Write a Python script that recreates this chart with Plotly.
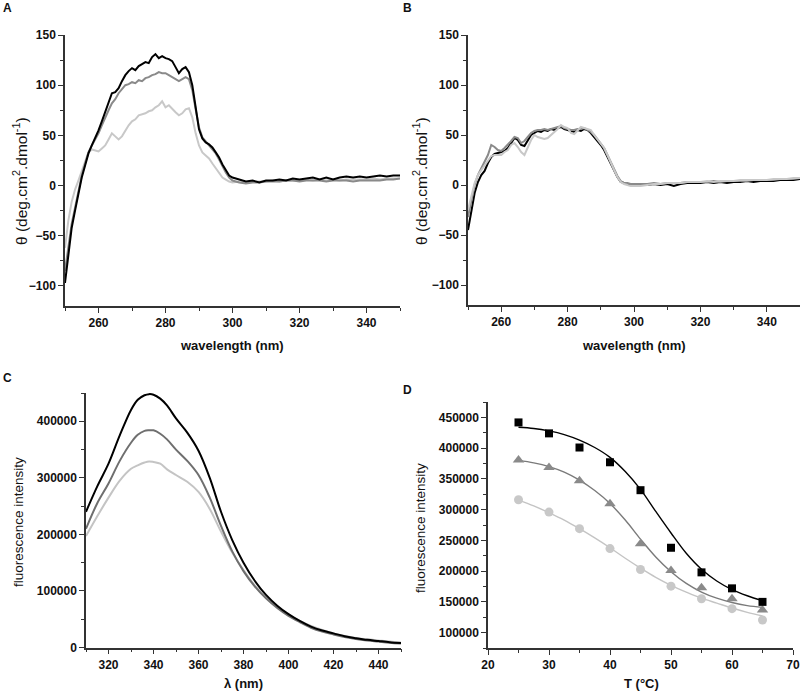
import plotly.graph_objects as go

# ---------------- Panel A / B : CD spectra ----------------
wl = [250, 251, 252, 253, 254, 255, 256, 257, 258, 259, 260, 261, 262, 263, 264, 265, 266, 267, 268, 269,
      270, 271, 272, 273, 274, 275, 276, 277, 278, 279, 280, 281, 282, 283, 284, 285, 286, 287, 288, 289,
      290, 291, 292, 293, 294, 295, 296, 297, 298, 299, 300,
      302, 304, 306, 308, 310, 312, 314, 316, 318, 320, 322, 324, 326, 328, 330, 332, 334, 336, 338, 340,
      342, 344, 346, 348, 350]

a_black = [-97, -70, -42, -25, -8, 8, 20, 32, 40, 47, 55, 64, 73, 82, 92, 93, 97, 104, 110, 114,
           117, 115, 119, 121, 123, 122, 128, 131, 127, 129, 127, 126, 124, 118, 112, 116, 118, 113, 100, 78,
           56, 47, 43, 41, 38, 33, 28, 21, 15, 10, 8,
           6, 4, 5, 3, 5, 5, 6, 5, 7, 6, 7, 8, 6, 8, 6, 8, 9, 8, 9, 8,
           9, 10, 9, 10, 10]
a_gray = [-85, -62, -38, -22, -6, 10, 22, 33, 40, 46, 52, 60, 68, 75, 82, 86, 92, 96, 100, 101,
          103, 102, 105, 104, 107, 108, 110, 111, 113, 112, 112, 110, 108, 106, 104, 106, 108, 106, 95, 76,
          58, 48, 44, 40, 37, 32, 26, 19, 13, 8, 5,
          3, 2, 3, 3, 4, 4, 4, 5, 5, 4, 5, 5, 5, 4, 5, 5, 5, 4, 5, 5,
          5, 5, 6, 6, 7]
a_light = [-62, -35, -16, -4, 5, 15, 25, 33, 36, 35, 34, 37, 40, 46, 52, 49, 46, 49, 55, 60,
           64, 66, 70, 71, 72, 74, 75, 78, 80, 84, 78, 80, 76, 73, 70, 72, 76, 77, 68, 52,
           40, 33, 30, 27, 22, 17, 12, 8, 6, 4, 3,
           4, 3, 4, 4, 4, 5, 4, 5, 5, 5, 6, 5, 6, 5, 6, 5, 6, 6, 6, 6,
           7, 6, 7, 7, 7]

b_black = [-45, -25, -8, 3, 10, 14, 22, 28, 31, 32, 33, 34, 37, 42, 47, 45, 40, 39, 45, 50,
           52, 54, 53, 55, 54, 56, 55, 57, 58, 56, 55, 54, 53, 55, 54, 56, 55, 52, 48, 45,
           40, 35, 28, 22, 15, 8, 3, 2, 1, 1, 0,
           1, 0, 1, 0, 1, -1, 1, 2, 2, 2, 3, 2, 3, 2, 3, 3, 4, 3, 4, 4,
           4, 5, 5, 5, 6]
b_gray = [-32, -14, 0, 10, 17, 24, 30, 40, 38, 35, 34, 37, 40, 44, 48, 47, 42, 44, 48, 52,
          54, 55, 55, 56, 55, 56, 57, 58, 59, 57, 56, 55, 55, 56, 56, 57, 55, 53, 50, 46,
          42, 37, 30, 23, 15, 9, 4, 2, 2, 1, 1,
          1, 1, 2, 1, 2, 2, 2, 3, 3, 3, 3, 4, 3, 4, 4, 4, 4, 5, 5, 5,
          5, 6, 6, 6, 7]
b_light = [-25, -10, 2, 10, 15, 20, 25, 29, 30, 30, 30, 33, 35, 40, 42, 38, 33, 30, 38, 45,
           50, 48, 47, 46, 47, 50, 52, 56, 60, 58, 57, 52, 51, 54, 58, 57, 56, 55, 50, 46,
           42, 37, 30, 22, 15, 8, 3, 1, 0, -1, -1,
           -1, 0, 1, 1, 2, 2, 2, 3, 3, 3, 4, 3, 4, 4, 4, 5, 5, 5, 5, 5,
           6, 6, 6, 7, 7]

# ---------------- Panel C : fluorescence spectra ----------------
lam = [310, 315, 320, 325, 330, 333, 336, 338, 340, 343, 346, 350, 355, 360, 365, 370, 375, 380, 385, 390,
       395, 400, 405, 410, 415, 420, 425, 430, 435, 440, 445, 450]
c_black = [240000, 285000, 325000, 375000, 420000, 438000, 446000, 448000, 447000, 440000, 428000, 405000,
           380000, 348000, 300000, 240000, 190000, 150000, 118000, 93000, 74000, 59000, 47000, 37000,
           30000, 25000, 20000, 16500, 13500, 11500, 9500, 8000]
c_gray = [210000, 255000, 290000, 330000, 362000, 376000, 383000, 384000, 384000, 378000, 368000, 350000,
          330000, 305000, 265000, 215000, 170000, 135000, 108000, 87000, 70000, 56000, 45000, 35000,
          28000, 23000, 18500, 15000, 12500, 10500, 8500, 7000]
c_light = [197000, 232000, 265000, 295000, 316000, 322000, 327000, 329000, 328000, 325000, 315000, 305000,
           293000, 275000, 245000, 205000, 168000, 137000, 110000, 89000, 72000, 58000, 47000, 38000,
           31000, 25000, 20500, 17000, 14500, 12500, 10500, 9000]

# ---------------- Panel D : thermal unfolding ----------------
temp = [25, 30, 35, 40, 45, 50, 55, 60, 65]
d_sq = [441800, 424000, 401000, 377000, 331600, 238000, 198000, 172000, 150000]
d_tri = [380800, 368400, 346800, 309500, 244700, 201000, 173000, 155000, 136700]
d_circ = [316000, 296000, 269000, 236600, 202600, 175600, 155000, 139000, 120500]

fit_t = [25, 27.5, 30, 32.5, 35, 37.5, 40, 42.5, 45, 47.5, 50, 52.5, 55, 57.5, 60, 62.5, 65]
fit_sq = [434000, 432000, 428000, 422000, 413000, 401000, 385000, 362000, 333000, 297000, 262000,
          229000, 203000, 184000, 170000, 160000, 152000]
fit_tri = [380000, 376000, 370000, 361000, 348000, 331000, 310000, 283000, 252000, 223000, 199000,
           180000, 166000, 156000, 149000, 144000, 141000]
fit_circ = [316000, 306000, 295000, 283000, 269000, 254000, 238000, 221000, 205000, 190000, 177000,
            166000, 156000, 148000, 140000, 133000, 127000]

BLACK = "#000000"
GRAY = "#8a8a8a"
LIGHT = "#c8c8c8"
GRAY_C = "#6f6f6f"
LIGHT_C = "#c4c4c4"
FONT = "Liberation Sans"

fig = go.Figure()

# A
for y, c in [(a_light, LIGHT), (a_gray, GRAY), (a_black, BLACK)]:
    fig.add_trace(go.Scatter(x=wl, y=y, mode="lines", line=dict(color=c, width=2),
                             xaxis="x", yaxis="y", showlegend=False))
# B
for y, c in [(b_black, BLACK), (b_gray, GRAY), (b_light, LIGHT)]:
    fig.add_trace(go.Scatter(x=wl, y=y, mode="lines", line=dict(color=c, width=2),
                             xaxis="x2", yaxis="y2", showlegend=False))
# C
for y, c in [(c_light, LIGHT_C), (c_gray, GRAY_C), (c_black, BLACK)]:
    fig.add_trace(go.Scatter(x=lam, y=y, mode="lines", line=dict(color=c, width=2, shape="spline"),
                             xaxis="x3", yaxis="y3", showlegend=False))
# D fits
for y, c in [(fit_circ, LIGHT_C), (fit_tri, "#7a7a7a"), (fit_sq, BLACK)]:
    fig.add_trace(go.Scatter(x=fit_t, y=y, mode="lines", line=dict(color=c, width=1.4, shape="spline"),
                             xaxis="x4", yaxis="y4", showlegend=False))
# D points
fig.add_trace(go.Scatter(x=temp, y=d_circ, mode="markers",
                         marker=dict(symbol="circle", size=9, color=LIGHT),
                         xaxis="x4", yaxis="y4", showlegend=False))
fig.add_trace(go.Scatter(x=temp, y=d_tri, mode="markers",
                         marker=dict(symbol="triangle-up", size=10, color=GRAY),
                         xaxis="x4", yaxis="y4", showlegend=False))
fig.add_trace(go.Scatter(x=temp, y=d_sq, mode="markers",
                         marker=dict(symbol="square", size=8, color=BLACK),
                         xaxis="x4", yaxis="y4", showlegend=False))

W, H = 800, 691


def px_x(p):
    return p / W


def px_y(p):
    return 1 - p / H


def ax(domain, rng, dtick, minor_dtick, anchor, fmt=None):
    d = dict(domain=domain, range=rng, dtick=dtick, tick0=0, anchor=anchor, automargin=False,
             showline=True, linecolor="#333333", linewidth=1.5,
             ticks="outside", ticklen=5, tickwidth=1.3, tickcolor="#333333",
             showgrid=False, zeroline=False, mirror=False, ticklabeloverflow="allow",
             tickfont=dict(family=FONT, size=12, color="#111111", weight="bold"),
             minor=dict(ticks="outside", ticklen=3, tickwidth=1, tickcolor="#333333",
                        dtick=minor_dtick, tick0=0, showgrid=False))
    if fmt:
        d["tickformat"] = fmt
    return d


layout = dict(
    width=W, height=H, paper_bgcolor="white", plot_bgcolor="white",
    margin=dict(l=0, r=0, t=0, b=0, autoexpand=False), showlegend=False,
    font=dict(family=FONT),
    xaxis=ax([px_x(65), px_x(400)], [250, 350], 20, 10, "y"),
    yaxis=ax([px_y(306), px_y(35)], [-120, 150], 50, 25, "x"),
    xaxis2=ax([px_x(468), px_x(800)], [250, 350], 20, 10, "y2"),
    yaxis2=ax([px_y(305), px_y(35)], [-120, 150], 50, 25, "x2"),
    xaxis3=ax([px_x(86), px_x(401)], [310, 450], 20, 10, "y3"),
    yaxis3=ax([px_y(647.5), px_y(393)], [0, 450000], 100000, 50000, "x3", ".0f"),
    xaxis4=ax([px_x(488), px_x(793)], [20, 70], 10, 5, "y4"),
    yaxis4=ax([px_y(648), px_y(402)], [75000, 475000], 50000, 25000, "x4", ".0f"),
)
fig.update_layout(**layout)


def ann(text, x, y, size=12, angle=0, xanchor="center"):
    fig.add_annotation(text=text, x=px_x(x), y=px_y(y), xref="paper", yref="paper",
                       showarrow=False, textangle=angle, xanchor=xanchor, yanchor="middle",
                       font=dict(family=FONT, size=size, color="#111111"))


theta = "θ (deg.cm<sup>2</sup>.dmol<sup>-1</sup>)"
ann("<b>wavelength (nm)</b>", 232, 345, 13)
ann("<b>wavelength (nm)</b>", 634, 345, 13)
ann(theta, 20, 181, 15.5, -90)
ann(theta, 420, 181, 15.5, -90)
ann("fluorescence intensity", 18, 522, 13.5, -90)
ann("fluorescence intensity", 420, 528, 13.5, -90)
ann("<b>λ (nm)</b>", 243, 683, 13)
ann("<b>T (°C)</b>", 641, 683, 13)
ann("<b>A</b>", 1, 8, 12, xanchor="left")
ann("<b>B</b>", 401, 8, 12, xanchor="left")
ann("<b>C</b>", 1, 378, 12, xanchor="left")
ann("<b>D</b>", 401, 390, 12, xanchor="left")

fig.write_html("out.html", config={"displayModeBar": False},
               post_script="document.body.style.margin='0';document.body.style.overflow='hidden';")
